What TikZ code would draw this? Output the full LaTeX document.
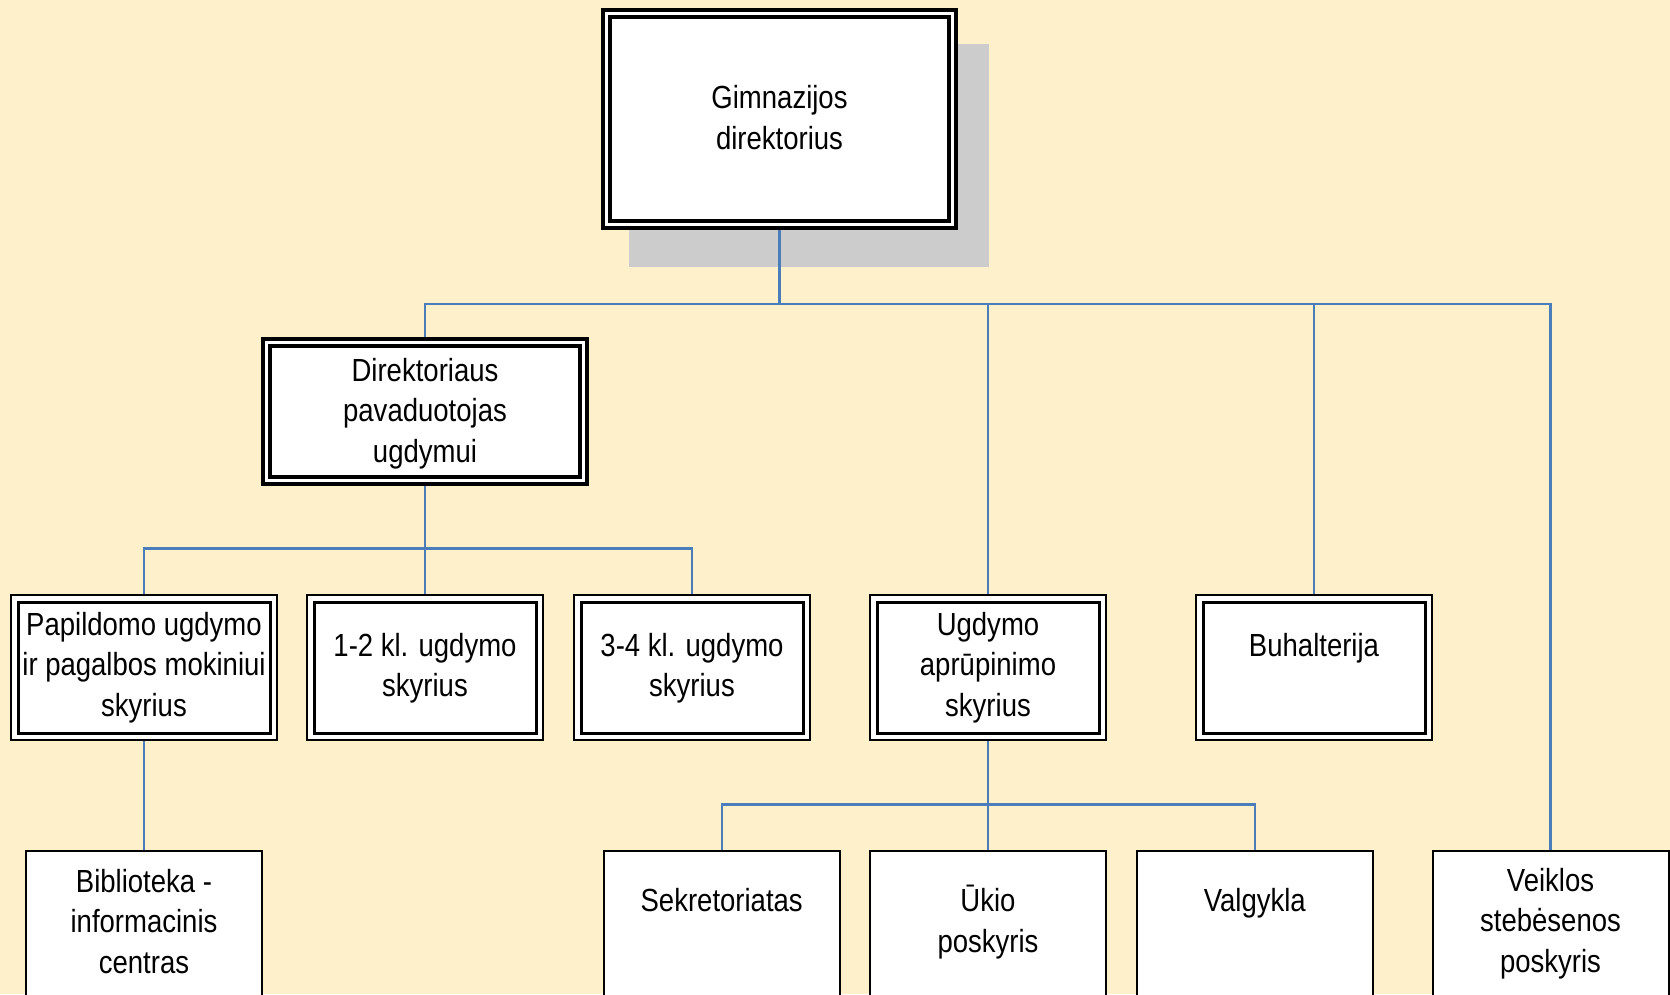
\documentclass[tikz,border=0pt]{standalone}
\usepackage{fontspec}
\setmainfont{Liberation Sans}[FakeStretch=0.86]
\definecolor{bgyellow}{RGB}{255,240,204}
\definecolor{lineblue}{RGB}{74,126,187}
\definecolor{shadowgray}{RGB}{204,204,204}
\newcommand{\mystrut}{\rule{0pt}{30pt}}
\tikzset{
  conn/.style={draw=lineblue, line width=2.4pt},
  bigbox/.style={rectangle, draw=black, fill=white, line width=4pt, double=white, double distance=3pt, inner sep=0pt, outer sep=5.5pt},
  midbox/.style={rectangle, draw=black, fill=white, line width=2pt, inner sep=0pt, minimum width=236pt, minimum height=145pt},
  lowbox/.style={rectangle, draw=black, fill=white, line width=2pt, inner sep=0pt, minimum width=236pt, minimum height=159pt},
  lbl/.style={anchor=north, inner sep=0pt, align=center, text=black, font=\fontsize{32}{40.5}\selectfont},
}
\begin{document}
\begin{tikzpicture}[x=1pt, y=-1pt]
\useasboundingbox (0,0) rectangle (1670,994);
\clip (0,0) rectangle (1670,994);
\fill[bgyellow] (0,0) rectangle (1670,994);
% shadow of top box
\fill[shadowgray] (629,44) rectangle (989,267);
% boxes
\node[bigbox, minimum width=346pt, minimum height=211pt] (top) at (779.5,119) {};
\node[bigbox, minimum width=317pt, minimum height=138pt] (dir) at (425,411.5) {};
\node[midbox, minimum width=266pt] (b1) at (144,667.5) {};
\node[midbox] (b2) at (425,667.5) {};
\node[midbox] (b3) at (692,667.5) {};
\node[midbox] (b4) at (988,667.5) {};
\node[midbox] (b5) at (1314,667.5) {};
\foreach \n in {b1,b2,b3,b4,b5}
  \draw[line width=3pt] ([shift={(8,8)}]\n.north west) rectangle ([shift={(-8,-8)}]\n.south east);
\node[lowbox] (bib) at (144,930.5) {};
\node[lowbox] (sek) at (721.7,930.5) {};
\node[lowbox] (uk) at (988,930.5) {};
\node[lowbox] (val) at (1254.8,930.5) {};
\node[lowbox] (veik) at (1550.5,930.5) {};
% connectors
\coordinate (bus1) at (779.5,304);
\coordinate (bus2) at (425,548.3);
\coordinate (bus3) at (988,804.3);
\draw[conn] (top.south) -- (bus1);
\foreach \c in {dir,b4,b5,veik} \draw[conn] (bus1) -| (\c.north);
\draw[conn] (dir.south) -- (bus2);
\foreach \c in {b1,b2,b3} \draw[conn] (bus2) -| (\c.north);
\draw[conn] (b1.south) -- (bib.north);
\draw[conn] (b4.south) -- (bus3);
\foreach \c in {sek,uk,val} \draw[conn] (bus3) -| (\c.north);
% labels
\node[lbl] (t-top) at (779.5,78.3) {\mystrut Gimnazijos\\direktorius};
\node[lbl] (t-dir) at (425,351) {\mystrut Direktoriaus\\pavaduotojas\\ugdymui};
\node[lbl] (t-b1) at (144,605) {\mystrut Papildomo ugdymo\\ir pagalbos mokiniui\\skyrius};
\node[lbl] (t-b2) at (425,626) {\mystrut 1-2 kl. ugdymo\\skyrius};
\node[lbl] (t-b3) at (692,626) {\mystrut 3-4 kl. ugdymo\\skyrius};
\node[lbl] (t-b4) at (988,605) {\mystrut Ugdymo\\aprūpinimo\\skyrius};
\node[lbl] (t-b5) at (1314,626) {\mystrut Buhalterija};
\node[lbl] (t-bib) at (144,862) {\mystrut Biblioteka -\\informacinis\\centras};
\node[lbl] (t-sek) at (721.7,881.7) {\mystrut Sekretoriatas};
\node[lbl] (t-uk) at (988,881.7) {\mystrut Ūkio\\poskyris};
\node[lbl] (t-val) at (1254.8,881.7) {\mystrut Valgykla};
\node[lbl] (t-veik) at (1550.5,861) {\mystrut Veiklos\\stebėsenos\\poskyris};
\end{tikzpicture}
\end{document}
